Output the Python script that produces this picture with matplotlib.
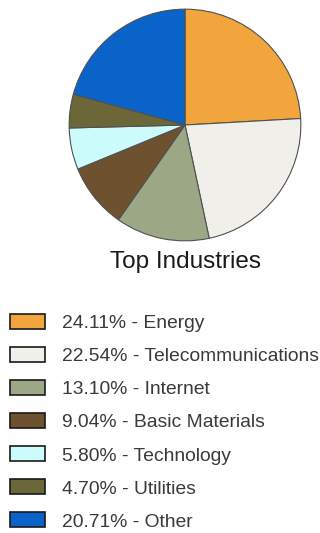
import matplotlib
matplotlib.use('Agg')
import matplotlib.pyplot as plt

plt.rcParams['font.family'] = ['Liberation Sans', 'DejaVu Sans']

# industry breakdown
industries = ['Energy', 'Telecommunications', 'Internet', 'Basic Materials',
              'Technology', 'Utilities', 'Other']
shares = [24.11, 22.54, 13.10, 9.04, 5.80, 4.70, 20.71]
colors = ['#F2A53C', '#F1EFE9', '#9CA786', '#6E5230', '#CCFBFC', '#6C6739', '#0A63C9']

W, H = 320, 533
fig = plt.figure(figsize=(W / 100, H / 100), dpi=100)

# pie area, centre (185, 125) px, radius 117 px
cx, cy, r = 185, 125, 117
ax = fig.add_axes([(cx - r) / W, 1 - (cy + r) / H, 2 * r / W, 2 * r / H])
wedges, _ = ax.pie(shares, colors=colors, startangle=90, counterclock=False,
                   radius=1.0,
                   wedgeprops=dict(edgecolor='#505050', linewidth=0.8))
ax.set_xlim(-1.01, 1.01)
ax.set_ylim(-1.01, 1.01)
ax.set_aspect('equal')
ax.axis('off')

fig.text(cx / W, 1 - 262 / H, 'Top Industries', ha='center', va='center',
         fontsize=17.5, color='#1a1a1a')

labels = ['%.2f%% - %s' % (s, n) for s, n in zip(shares, industries)]
leg = fig.legend(wedges, labels, loc='upper left',
                 bbox_to_anchor=(10 / W, 1 - 314 / H),
                 frameon=False, fontsize=13.9, borderpad=0, borderaxespad=0,
                 handlelength=1.8, handleheight=0.82, handletextpad=0.88,
                 labelspacing=0.77)
for t in leg.get_texts():
    t.set_color('#3a3a3a')
for h in leg.legend_handles:
    h.set_edgecolor('#1a1a1a')
    h.set_linewidth(1.2)

fig.savefig('out.png', dpi=100)
